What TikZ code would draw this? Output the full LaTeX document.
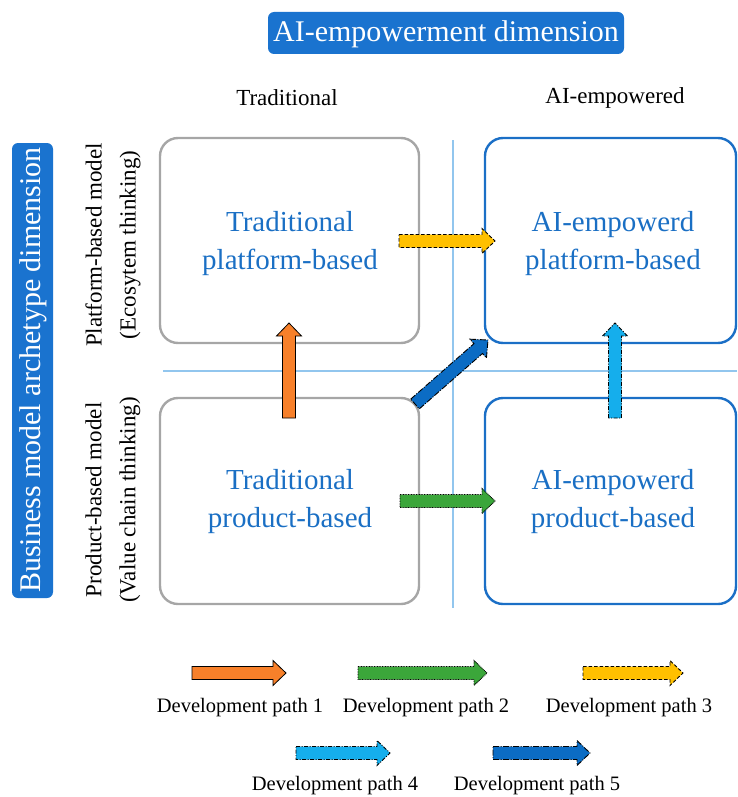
\documentclass[tikz,border=0pt]{standalone}
\usepackage{fontspec}
\setmainfont{Liberation Serif}
\usetikzlibrary{calc}

\definecolor{dimblue}{HTML}{1A73CF}
\definecolor{txtblue}{HTML}{1A6FC4}
\definecolor{boxgray}{HTML}{A6A6A6}
\definecolor{boxblue}{HTML}{1B6FC6}
\definecolor{gridblue}{HTML}{92C6EE}
\definecolor{pathorange}{HTML}{F7802A}
\definecolor{pathgreen}{HTML}{3BA63A}
\definecolor{pathyellow}{HTML}{FFC000}
\definecolor{pathcyan}{HTML}{15AEEC}
\definecolor{pathblue}{HTML}{0B6CC4}

% block arrow from #2 to #3, drawn with style #1
\newcommand\blockarrow[3]{%
  \coordinate (ba-neck) at ($(#3)!13pt!(#2)$);
  \draw[#1] ($(#2)!6.5pt!90:(#3)$) -- ($(ba-neck)!6.5pt!90:(#3)$)
    -- ($(ba-neck)!12.5pt!90:(#3)$) -- (#3)
    -- ($(ba-neck)!12.5pt!-90:(#3)$) -- ($(ba-neck)!6.5pt!-90:(#3)$)
    -- ($(#2)!6.5pt!-90:(#3)$) -- cycle;}

\tikzset{
  dimtext/.style={text=white, font=\fontsize{30}{34}\selectfont},
  header/.style={font=\fontsize{23}{27}\selectfont},
  rowlabel/.style={rotate=90, align=center, font=\fontsize{23}{34}\selectfont},
  tradbox/.style={draw=boxgray, line width=2.4pt, rounded corners=18pt},
  aibox/.style={draw=boxblue, line width=2.4pt, rounded corners=18pt},
  boxtext/.style={text=txtblue, align=center, font=\fontsize{29}{38}\selectfont},
  gridline/.style={draw=gridblue, line width=1.2pt},
  legendtext/.style={font=\fontsize{20.5}{24}\selectfont},
  path1/.style={fill=pathorange, draw=black, line width=0.8pt},
  path2/.style={fill=pathgreen, draw=black, line width=0.9pt, dash pattern=on 0.8pt off 0.8pt},
  path3/.style={fill=pathyellow, draw=black, line width=0.9pt, dash pattern=on 3.5pt off 2pt},
  path4/.style={fill=pathcyan, draw=black, line width=0.9pt, dash pattern=on 4pt off 1.5pt on 1pt off 1.5pt},
  path5/.style={fill=pathblue, draw=black, line width=0.9pt, dash pattern=on 6pt off 1.5pt on 1pt off 1.5pt},
}

\begin{document}
\begin{tikzpicture}[x=1pt, y=-1pt]
  \useasboundingbox (0,0) rectangle (737,797);

  % dimension titles
  \fill[dimblue, rounded corners=6pt] (268,12) rectangle (624,54);
  \node[dimtext] (dimx) at (446,34) {AI-empowerment dimension};
  \fill[dimblue, rounded corners=6pt] (12,143) rectangle (53,598);
  \node[dimtext, rotate=90] (dimy) at (33,370) {Business model archetype dimension};

  % column and row headers
  \node[header] (colT) at (287,98) {Traditional};
  \node[header] (colA) at (615,98) {AI-empowered};
  \node[rowlabel] (rowP) at (113,245) {Platform-based model\\(Ecosytem thinking)};
  \node[rowlabel] (rowV) at (113,500) {Product-based model\\(Value chain thinking)};

  % quadrant separators
  \draw[gridline] (453,140) -- (453,608);
  \draw[gridline] (163,371) -- (737,371);

  % quadrants
  \draw[tradbox] (160,138) rectangle (419,343);
  \draw[tradbox] (160,398) rectangle (419,604);
  \draw[aibox] (485,138) rectangle (736,343);
  \draw[aibox] (485,398) rectangle (736,604);
  \node[boxtext] (tp) at (290,244) {Traditional\\platform-based};
  \node[boxtext] (tv) at (290,502) {Traditional\\product-based};
  \node[boxtext] (ap) at (613,244) {AI-empowerd\\platform-based};
  \node[boxtext] (av) at (613,502) {AI-empowerd\\product-based};

  % development paths
  \coordinate (p1a) at (289,418); \coordinate (p1b) at (289,323);
  \coordinate (p2a) at (400,501); \coordinate (p2b) at (495,501);
  \coordinate (p3a) at (399,241); \coordinate (p3b) at (495,241);
  \coordinate (p4a) at (615,418); \coordinate (p4b) at (615,323);
  \coordinate (p5a) at (415,404); \coordinate (p5b) at (488,340);
  \blockarrow{path1}{p1a}{p1b}
  \blockarrow{path2}{p2a}{p2b}
  \blockarrow{path3}{p3a}{p3b}
  \blockarrow{path4}{p4a}{p4b}
  \blockarrow{path5}{p5a}{p5b}

  % legend
  \coordinate (l1a) at (192,673); \coordinate (l1b) at (286,673);
  \coordinate (l2a) at (358,673); \coordinate (l2b) at (487,673);
  \coordinate (l3a) at (583,673); \coordinate (l3b) at (683,673);
  \coordinate (l4a) at (296,753); \coordinate (l4b) at (390,753);
  \coordinate (l5a) at (493,753); \coordinate (l5b) at (590,753);
  \blockarrow{path1}{l1a}{l1b}
  \blockarrow{path2}{l2a}{l2b}
  \blockarrow{path3}{l3a}{l3b}
  \blockarrow{path4}{l4a}{l4b}
  \blockarrow{path5}{l5a}{l5b}
  \node[legendtext] (t1) at (240,708) {Development path 1};
  \node[legendtext] (t2) at (426,708) {Development path 2};
  \node[legendtext] (t3) at (629,708) {Development path 3};
  \node[legendtext] (t4) at (335,786) {Development path 4};
  \node[legendtext] (t5) at (537,786) {Development path 5};
\end{tikzpicture}
\end{document}
